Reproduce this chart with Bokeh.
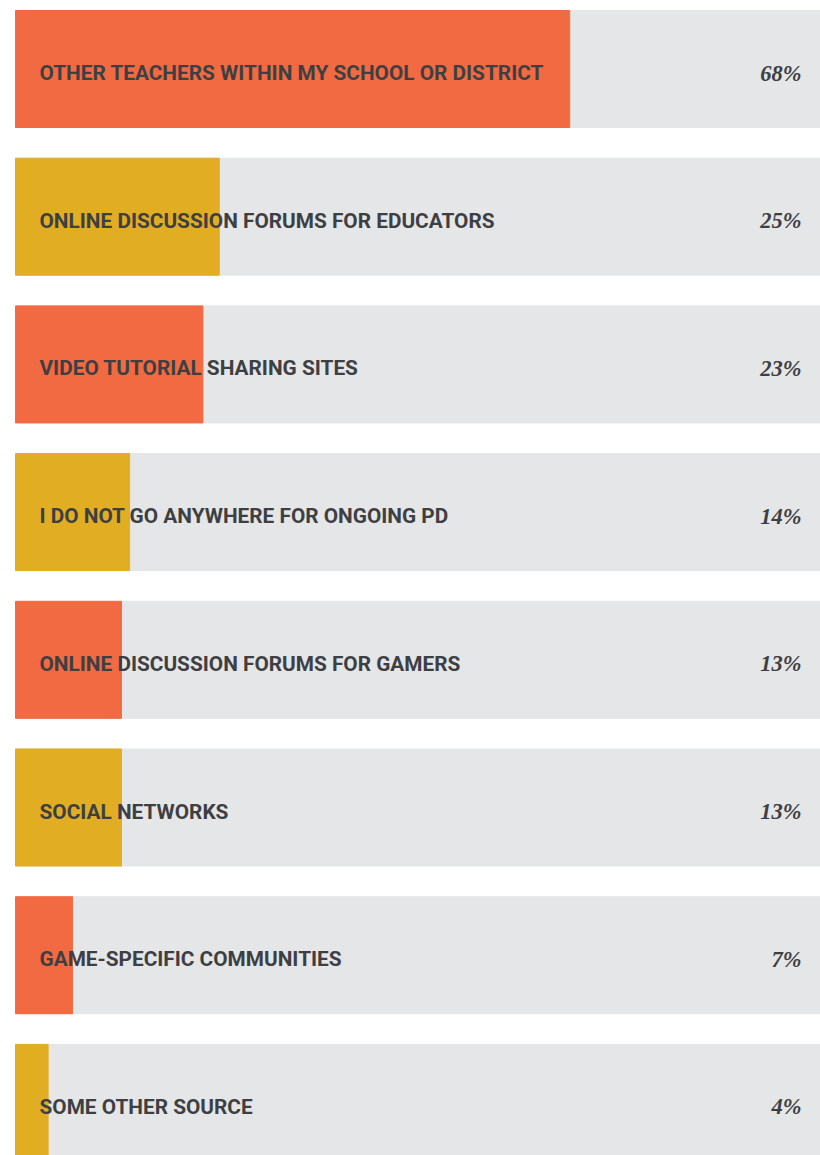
from bokeh.plotting import figure
from bokeh.models import Range1d, ColumnDataSource
from bokeh.embed import file_html
from bokeh.resources import INLINE
from bokeh.core.properties import value

categories = [
    "OTHER TEACHERS WITHIN MY SCHOOL OR DISTRICT",
    "ONLINE DISCUSSION FORUMS FOR EDUCATORS",
    "VIDEO TUTORIAL SHARING SITES",
    "I DO NOT GO ANYWHERE FOR ONGOING PD",
    "ONLINE DISCUSSION FORUMS FOR GAMERS",
    "SOCIAL NETWORKS",
    "GAME-SPECIFIC COMMUNITIES",
    "SOME OTHER SOURCE",
]
percentages = [68, 25, 23, 14, 13, 13, 7, 4]
palette = ["#F26A41", "#E1AD23"]

n = len(categories)
idx = list(range(n))
src = ColumnDataSource(dict(
    y=idx,
    val=percentages,
    full=[100] * n,
    label=categories,
    pct=[f"{v}%" for v in percentages],
    color=[palette[i % 2] for i in idx],
))

W, H = 820, 1155
p = figure(width=W, height=H, output_backend="svg", toolbar_location=None,
           min_border=0, outline_line_color=None,
           x_range=Range1d(-1.840, 98.77), y_range=Range1d(7.356, -0.4638))
p.axis.visible = False
p.grid.visible = False
p.background_fill_color = "white"
p.border_fill_color = "white"

bh = 0.792
p.hbar(y="y", left=0, right="full", height=bh, color="#E5E6E8", source=src)
p.hbar(y="y", left=0, right="val", height=bh, color="color", source=src)

p.text(x=0, y="y", text="label", source=src, x_offset=24, y_offset=4,
       text_font=value("Roboto"), text_font_style="bold", text_font_size="20.8px",
       text_color="#3E3F42", text_baseline="middle", text_align="left")
p.text(x=96.44, y="y", text="pct", source=src, y_offset=4,
       text_font=value("Liberation Serif"), text_font_style="bold italic",
       text_font_size="22.5px", text_color="#3E3F42",
       text_baseline="middle", text_align="right")

open("out.html", "w").write(file_html(p, INLINE))
